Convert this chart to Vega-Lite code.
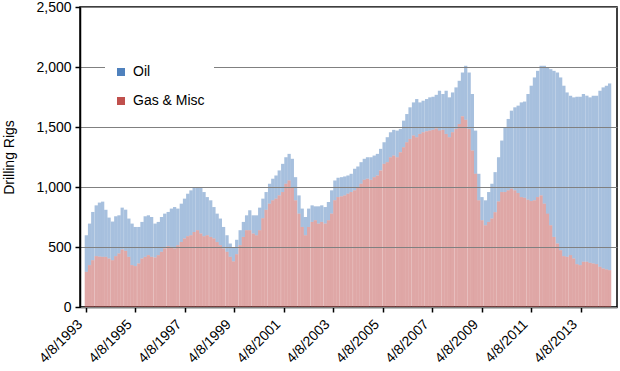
{
  "$schema": "https://vega.github.io/schema/vega-lite/v6.json",
  "width": 537,
  "height": 300,
  "autosize": {"type": "none"},
  "padding": {"left": 80, "top": 7, "right": 3, "bottom": 64},
  "background": "white",
  "config": {"font": "Liberation Sans", "view": {"stroke": "black", "strokeWidth": 1.5}},
  "data": {"values": [
    {"year":1993.28,"Oil":305,"Gas & Misc":293},{"year":1993.41,"Oil":346,"Gas & Misc":349},{"year":1993.54,"Oil":402,"Gas & Misc":390},{"year":1993.68,"Oil":423,"Gas & Misc":424},{"year":1993.81,"Oil":450,"Gas & Misc":420},{"year":1993.94,"Oil":460,"Gas & Misc":418},{"year":1994.07,"Oil":392,"Gas & Misc":418},{"year":1994.20,"Oil":341,"Gas & Misc":404},{"year":1994.34,"Oil":322,"Gas & Misc":390},{"year":1994.47,"Oil":332,"Gas & Misc":424},
    {"year":1994.60,"Oil":318,"Gas & Misc":446},{"year":1994.73,"Oil":349,"Gas & Misc":479},{"year":1994.87,"Oil":343,"Gas & Misc":468},{"year":1995.00,"Oil":319,"Gas & Misc":418},{"year":1995.13,"Oil":346,"Gas & Misc":349},{"year":1995.26,"Oil":326,"Gas & Misc":341},{"year":1995.40,"Oil":304,"Gas & Misc":363},{"year":1995.53,"Oil":305,"Gas & Misc":404},{"year":1995.66,"Oil":338,"Gas & Misc":418},{"year":1995.79,"Oil":332,"Gas & Misc":432},
    {"year":1995.92,"Oil":332,"Gas & Misc":418},{"year":1996.06,"Oil":282,"Gas & Misc":413},{"year":1996.19,"Oil":277,"Gas & Misc":432},{"year":1996.32,"Oil":290,"Gas & Misc":460},{"year":1996.45,"Oil":290,"Gas & Misc":488},{"year":1996.59,"Oil":285,"Gas & Misc":507},{"year":1996.72,"Oil":319,"Gas & Misc":501},{"year":1996.85,"Oil":345,"Gas & Misc":488},{"year":1996.98,"Oil":305,"Gas & Misc":515},{"year":1997.12,"Oil":319,"Gas & Misc":542},
    {"year":1997.25,"Oil":332,"Gas & Misc":571},{"year":1997.38,"Oil":354,"Gas & Misc":590},{"year":1997.51,"Oil":374,"Gas & Misc":598},{"year":1997.64,"Oil":375,"Gas & Misc":625},{"year":1997.78,"Oil":354,"Gas & Misc":640},{"year":1997.91,"Oil":382,"Gas & Misc":612},{"year":1998.04,"Oil":368,"Gas & Misc":590},{"year":1998.17,"Oil":318,"Gas & Misc":598},{"year":1998.31,"Oil":305,"Gas & Misc":584},{"year":1998.44,"Oil":262,"Gas & Misc":571},
    {"year":1998.57,"Oil":237,"Gas & Misc":541},{"year":1998.70,"Oil":222,"Gas & Misc":515},{"year":1998.83,"Oil":179,"Gas & Misc":488},{"year":1998.97,"Oil":138,"Gas & Misc":460},{"year":1999.10,"Oil":111,"Gas & Misc":418},{"year":1999.23,"Oil":120,"Gas & Misc":380},{"year":1999.36,"Oil":120,"Gas & Misc":440},{"year":1999.50,"Oil":125,"Gas & Misc":515},{"year":1999.63,"Oil":125,"Gas & Misc":584},{"year":1999.76,"Oil":124,"Gas & Misc":640},
    {"year":1999.89,"Oil":166,"Gas & Misc":640},{"year":2000.03,"Oil":152,"Gas & Misc":612},{"year":2000.16,"Oil":166,"Gas & Misc":598},{"year":2000.29,"Oil":188,"Gas & Misc":640},{"year":2000.42,"Oil":163,"Gas & Misc":740},{"year":2000.55,"Oil":148,"Gas & Misc":810},{"year":2000.69,"Oil":166,"Gas & Misc":861},{"year":2000.82,"Oil":180,"Gas & Misc":889},{"year":2000.95,"Oil":193,"Gas & Misc":903},{"year":2001.08,"Oil":208,"Gas & Misc":930},
    {"year":2001.22,"Oil":235,"Gas & Misc":958},{"year":2001.35,"Oil":221,"Gas & Misc":1027},{"year":2001.48,"Oil":221,"Gas & Misc":1055},{"year":2001.61,"Oil":235,"Gas & Misc":1000},{"year":2001.74,"Oil":193,"Gas & Misc":889},{"year":2001.88,"Oil":152,"Gas & Misc":778},{"year":2002.01,"Oil":153,"Gas & Misc":667},{"year":2002.14,"Oil":152,"Gas & Misc":598},{"year":2002.27,"Oil":153,"Gas & Misc":667},{"year":2002.41,"Oil":138,"Gas & Misc":709},
    {"year":2002.54,"Oil":116,"Gas & Misc":723},{"year":2002.67,"Oil":144,"Gas & Misc":695},{"year":2002.80,"Oil":138,"Gas & Misc":709},{"year":2002.94,"Oil":138,"Gas & Misc":695},{"year":2003.07,"Oil":152,"Gas & Misc":723},{"year":2003.20,"Oil":194,"Gas & Misc":778},{"year":2003.33,"Oil":166,"Gas & Misc":889},{"year":2003.46,"Oil":161,"Gas & Misc":916},{"year":2003.60,"Oil":160,"Gas & Misc":922},{"year":2003.73,"Oil":158,"Gas & Misc":930},
    {"year":2003.86,"Oil":152,"Gas & Misc":944},{"year":2003.99,"Oil":152,"Gas & Misc":958},{"year":2004.13,"Oil":180,"Gas & Misc":972},{"year":2004.26,"Oil":171,"Gas & Misc":1000},{"year":2004.39,"Oil":180,"Gas & Misc":1027},{"year":2004.52,"Oil":175,"Gas & Misc":1060},{"year":2004.65,"Oil":179,"Gas & Misc":1069},{"year":2004.79,"Oil":188,"Gas & Misc":1060},{"year":2004.92,"Oil":180,"Gas & Misc":1082},{"year":2005.05,"Oil":180,"Gas & Misc":1096},
    {"year":2005.18,"Oil":180,"Gas & Misc":1138},{"year":2005.32,"Oil":180,"Gas & Misc":1193},{"year":2005.45,"Oil":208,"Gas & Misc":1207},{"year":2005.58,"Oil":208,"Gas & Misc":1248},{"year":2005.71,"Oil":214,"Gas & Misc":1262},{"year":2005.85,"Oil":222,"Gas & Misc":1248},{"year":2005.98,"Oil":194,"Gas & Misc":1290},{"year":2006.11,"Oil":222,"Gas & Misc":1331},{"year":2006.24,"Oil":235,"Gas & Misc":1373},{"year":2006.37,"Oil":263,"Gas & Misc":1401},
    {"year":2006.51,"Oil":276,"Gas & Misc":1429},{"year":2006.64,"Oil":318,"Gas & Misc":1415},{"year":2006.77,"Oil":263,"Gas & Misc":1442},{"year":2006.90,"Oil":263,"Gas & Misc":1456},{"year":2007.04,"Oil":268,"Gas & Misc":1465},{"year":2007.17,"Oil":277,"Gas & Misc":1470},{"year":2007.30,"Oil":276,"Gas & Misc":1476},{"year":2007.43,"Oil":280,"Gas & Misc":1488},{"year":2007.56,"Oil":332,"Gas & Misc":1470},{"year":2007.70,"Oil":299,"Gas & Misc":1476},
    {"year":2007.83,"Oil":360,"Gas & Misc":1442},{"year":2007.96,"Oil":332,"Gas & Misc":1415},{"year":2008.09,"Oil":332,"Gas & Misc":1456},{"year":2008.23,"Oil":346,"Gas & Misc":1484},{"year":2008.36,"Oil":360,"Gas & Misc":1525},{"year":2008.49,"Oil":364,"Gas & Misc":1590},{"year":2008.62,"Oil":450,"Gas & Misc":1560},{"year":2008.76,"Oil":470,"Gas & Misc":1484},{"year":2008.89,"Oil":471,"Gas & Misc":1304},{"year":2009.02,"Oil":360,"Gas & Misc":1110},
    {"year":2009.15,"Oil":221,"Gas & Misc":889},{"year":2009.28,"Oil":193,"Gas & Misc":723},{"year":2009.42,"Oil":208,"Gas & Misc":681},{"year":2009.55,"Oil":249,"Gas & Misc":709},{"year":2009.68,"Oil":290,"Gas & Misc":737},{"year":2009.81,"Oil":334,"Gas & Misc":790},{"year":2009.95,"Oil":368,"Gas & Misc":880},{"year":2010.08,"Oil":429,"Gas & Misc":958},{"year":2010.21,"Oil":540,"Gas & Misc":958},{"year":2010.34,"Oil":595,"Gas & Misc":972},
    {"year":2010.47,"Oil":650,"Gas & Misc":986},{"year":2010.61,"Oil":692,"Gas & Misc":972},{"year":2010.74,"Oil":728,"Gas & Misc":950},{"year":2010.87,"Oil":789,"Gas & Misc":916},{"year":2011.00,"Oil":802,"Gas & Misc":910},{"year":2011.14,"Oil":881,"Gas & Misc":894},{"year":2011.27,"Oil":961,"Gas & Misc":883},{"year":2011.40,"Oil":1024,"Gas & Misc":889},{"year":2011.53,"Oil":1052,"Gas & Misc":916},{"year":2011.67,"Oil":1080,"Gas & Misc":930},
    {"year":2011.80,"Oil":1149,"Gas & Misc":861},{"year":2011.93,"Oil":1218,"Gas & Misc":778},{"year":2012.06,"Oil":1301,"Gas & Misc":681},{"year":2012.19,"Oil":1384,"Gas & Misc":584},{"year":2012.33,"Oil":1425,"Gas & Misc":529},{"year":2012.46,"Oil":1440,"Gas & Misc":473},{"year":2012.59,"Oil":1420,"Gas & Misc":424},{"year":2012.72,"Oil":1370,"Gas & Misc":418},{"year":2012.86,"Oil":1329,"Gas & Misc":432},{"year":2012.99,"Oil":1343,"Gas & Misc":404},
    {"year":2013.12,"Oil":1395,"Gas & Misc":357},{"year":2013.25,"Oil":1403,"Gas & Misc":349},{"year":2013.38,"Oil":1398,"Gas & Misc":377},{"year":2013.52,"Oil":1384,"Gas & Misc":377},{"year":2013.65,"Oil":1379,"Gas & Misc":368},{"year":2013.78,"Oil":1398,"Gas & Misc":363},{"year":2013.91,"Oil":1404,"Gas & Misc":357},{"year":2014.05,"Oil":1467,"Gas & Misc":335},{"year":2014.18,"Oil":1509,"Gas & Misc":321},{"year":2014.31,"Oil":1531,"Gas & Misc":313},
    {"year":2014.44,"Oil":1556,"Gas & Misc":307}
  ]},
  "transform": [{"fold": ["Oil", "Gas & Misc"], "as": ["type", "rigs"]}],
  "mark": {"type": "bar", "width": 3.25, "opacity": 0.5, "clip": true},
  "encoding": {
    "x": {
      "field": "year", "type": "quantitative",
      "scale": {"domain": [1993.226, 2014.536], "nice": false, "zero": false},
      "axis": {
        "title": null,
        "values": [1993.266, 1995.266, 1997.266, 1999.266, 2001.266, 2003.266, 2005.266, 2007.266, 2009.266, 2011.266, 2013.266],
        "labelExpr": "'4/8/' + floor(datum.value)",
        "labelAngle": -45,
        "labelAlign": "right",
        "labelBaseline": "middle",
        "labelOffset": -6,
        "labelFontSize": 14,
        "labelColor": "black",
        "grid": false,
        "tickSize": 5,
        "tickColor": "black",
        "tickWidth": 1.5,
        "domainColor": "black",
        "domainWidth": 1.5,
        "labelPadding": 10
      }
    },
    "y": {
      "field": "rigs", "type": "quantitative", "stack": "zero",
      "scale": {"domain": [0, 2500], "nice": false},
      "axis": {
        "title": "Drilling Rigs",
        "titleFontSize": 14,
        "titleFontWeight": "normal",
        "titleColor": "black",
        "titlePadding": 19,
        "values": [0, 500, 1000, 1500, 2000, 2500],
        "format": ",.0f",
        "labelFontSize": 14,
        "labelColor": "black",
        "labelPadding": 4,
        "tickSize": 5,
        "tickColor": "black",
        "tickWidth": 1.5,
        "domainColor": "black",
        "domainWidth": 1.5,
        "grid": true,
        "gridColor": "#808080",
        "gridWidth": 1.2,
        "zindex": 1
      }
    },
    "color": {
      "field": "type", "type": "nominal",
      "scale": {"domain": ["Oil", "Gas & Misc"], "range": ["#4f81bd", "#c0504d"]},
      "legend": {
        "orient": "none",
        "legendX": 25,
        "legendY": 49,
        "title": null,
        "fillColor": "white",
        "padding": 9,
        "symbolType": "square",
        "symbolSize": 64,
        "symbolOpacity": 1,
        "symbolStrokeWidth": 0,
        "labelFontSize": 14,
        "labelColor": "black",
        "labelOffset": 5,
        "rowPadding": 15,
        "zindex": 2
      }
    },
    "order": {"field": "type", "sort": "ascending"}
  }
}
